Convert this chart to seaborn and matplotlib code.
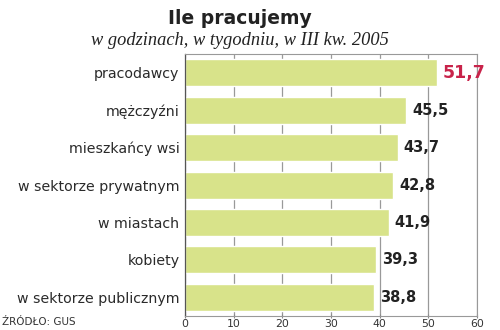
import matplotlib
matplotlib.use("Agg")
import matplotlib.pyplot as plt
import seaborn as sns
import pandas as pd

categories = ["pracodawcy", "mężczyźni", "mieszkańcy wsi", "w sektorze prywatnym",
              "w miastach", "kobiety", "w sektorze publicznym"]
values = [51.7, 45.5, 43.7, 42.8, 41.9, 39.3, 38.8]
labels = ["51,7", "45,5", "43,7", "42,8", "41,9", "39,3", "38,8"]
xticks = [0, 10, 20, 30, 40, 50, 60]

sns.set_theme(style="white")
plt.rcParams['font.family'] = ['DejaVu Sans']

df = pd.DataFrame({"cat": categories, "val": values})
fig = plt.figure(figsize=(5, 3.3), dpi=100)
ax = fig.add_axes([0.37, 0.0424, 0.584, 0.7936])
sns.barplot(data=df, y="cat", x="val", color="#d8e38a", saturation=1, width=0.72, ax=ax)
ax.set_xlim(0, 60)
ax.set_xticks(xticks)
ax.set_xticklabels([str(t) for t in xticks], fontsize=7.8, color="#333333")
ax.tick_params(axis="x", length=3, pad=0.5, color="#888888", width=0.8,
               direction="inout", bottom=True)
ax.tick_params(axis="y", length=0, pad=4)
ax.set_yticklabels(categories, fontsize=10.2, color="#2a2a2a")
ax.xaxis.grid(True, color="#999999", linewidth=0.9)
ax.set_axisbelow(True)
ax.set_xlabel("")
ax.set_ylabel("")
for s in ["top", "right", "bottom"]:
    ax.spines[s].set_color("#999999")
    ax.spines[s].set_linewidth(0.8)
ax.spines["left"].set_color("#555555")
ax.spines["left"].set_linewidth(0.9)

for i, (v, lab) in enumerate(zip(values, labels)):
    if i == 0:
        ax.text(v + 1.2, i, lab, va="center", ha="left", fontsize=12.5,
                fontweight="bold", color="#c8234a")
    else:
        ax.text(v + 1.2, i, lab, va="center", ha="left", fontsize=10.5,
                fontweight="bold", color="#222222")

fig.text(0.48, 0.945, "Ile pracujemy", ha="center", va="center", fontsize=13.5,
         fontweight="bold", color="#222222")
fig.text(0.48, 0.878, "w godzinach, w tygodniu, w III kw. 2005", ha="center",
         va="center", fontsize=13.2, style="italic", family="Liberation Serif", color="#222222")
fig.text(0.005, 0.025, "ŹRÓDŁO: GUS", ha="left", va="center", fontsize=7.5, color="#333333")

fig.savefig("out.png", dpi=100)
